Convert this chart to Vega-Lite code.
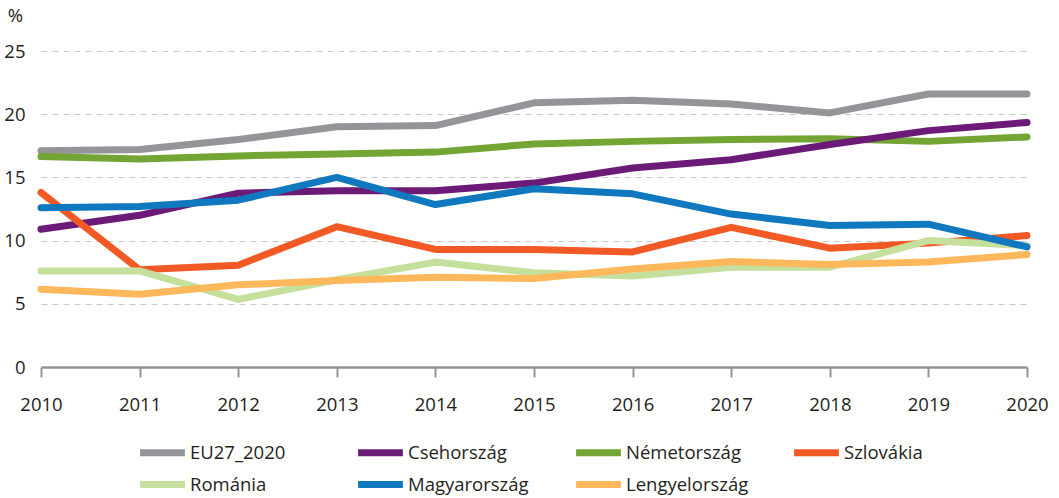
{
  "$schema": "https://vega.github.io/schema/vega-lite/v6.json",
  "autosize": {"type": "none"},
  "padding": {"left": 41, "top": 51, "right": 32, "bottom": 131},
  "width": 986,
  "height": 316,
  "background": "white",
  "config": {
    "view": {"stroke": null},
    "font": "Open Sans",
    "axis": {"labelFont": "Open Sans", "labelColor": "#231f20", "labelFontSize": 18.5},
    "legend": {"labelFont": "Open Sans", "labelColor": "#231f20", "labelFontSize": 18.5}
  },
  "data": {
    "values": [
      {"year": 2010, "country": "EU27_2020", "value": 17.1},
      {"year": 2011, "country": "EU27_2020", "value": 17.2},
      {"year": 2012, "country": "EU27_2020", "value": 18.0},
      {"year": 2013, "country": "EU27_2020", "value": 19.0},
      {"year": 2014, "country": "EU27_2020", "value": 19.1},
      {"year": 2015, "country": "EU27_2020", "value": 20.9},
      {"year": 2016, "country": "EU27_2020", "value": 21.1},
      {"year": 2017, "country": "EU27_2020", "value": 20.8},
      {"year": 2018, "country": "EU27_2020", "value": 20.1},
      {"year": 2019, "country": "EU27_2020", "value": 21.6},
      {"year": 2020, "country": "EU27_2020", "value": 21.6},
      {"year": 2010, "country": "Németország", "value": 16.65},
      {"year": 2011, "country": "Németország", "value": 16.45},
      {"year": 2012, "country": "Németország", "value": 16.7},
      {"year": 2013, "country": "Németország", "value": 16.85},
      {"year": 2014, "country": "Németország", "value": 17.0},
      {"year": 2015, "country": "Németország", "value": 17.65},
      {"year": 2016, "country": "Németország", "value": 17.85},
      {"year": 2017, "country": "Németország", "value": 18.0},
      {"year": 2018, "country": "Németország", "value": 18.05},
      {"year": 2019, "country": "Németország", "value": 17.85},
      {"year": 2020, "country": "Németország", "value": 18.2},
      {"year": 2010, "country": "Csehország", "value": 10.9},
      {"year": 2011, "country": "Csehország", "value": 12.0},
      {"year": 2012, "country": "Csehország", "value": 13.75},
      {"year": 2013, "country": "Csehország", "value": 13.95},
      {"year": 2014, "country": "Csehország", "value": 13.95},
      {"year": 2015, "country": "Csehország", "value": 14.55},
      {"year": 2016, "country": "Csehország", "value": 15.75},
      {"year": 2017, "country": "Csehország", "value": 16.4},
      {"year": 2018, "country": "Csehország", "value": 17.6},
      {"year": 2019, "country": "Csehország", "value": 18.7},
      {"year": 2020, "country": "Csehország", "value": 19.35},
      {"year": 2010, "country": "Szlovákia", "value": 13.8},
      {"year": 2011, "country": "Szlovákia", "value": 7.7},
      {"year": 2012, "country": "Szlovákia", "value": 8.05},
      {"year": 2013, "country": "Szlovákia", "value": 11.1},
      {"year": 2014, "country": "Szlovákia", "value": 9.3},
      {"year": 2015, "country": "Szlovákia", "value": 9.3},
      {"year": 2016, "country": "Szlovákia", "value": 9.1},
      {"year": 2017, "country": "Szlovákia", "value": 11.05},
      {"year": 2018, "country": "Szlovákia", "value": 9.4},
      {"year": 2019, "country": "Szlovákia", "value": 9.8},
      {"year": 2020, "country": "Szlovákia", "value": 10.4},
      {"year": 2010, "country": "Románia", "value": 7.6},
      {"year": 2011, "country": "Románia", "value": 7.6},
      {"year": 2012, "country": "Románia", "value": 5.35},
      {"year": 2013, "country": "Románia", "value": 6.9},
      {"year": 2014, "country": "Románia", "value": 8.3},
      {"year": 2015, "country": "Románia", "value": 7.45},
      {"year": 2016, "country": "Románia", "value": 7.2},
      {"year": 2017, "country": "Románia", "value": 7.9},
      {"year": 2018, "country": "Románia", "value": 7.9},
      {"year": 2019, "country": "Románia", "value": 10.0},
      {"year": 2020, "country": "Románia", "value": 9.6},
      {"year": 2010, "country": "Lengyelország", "value": 6.15},
      {"year": 2011, "country": "Lengyelország", "value": 5.75},
      {"year": 2012, "country": "Lengyelország", "value": 6.5},
      {"year": 2013, "country": "Lengyelország", "value": 6.85},
      {"year": 2014, "country": "Lengyelország", "value": 7.1},
      {"year": 2015, "country": "Lengyelország", "value": 7.0},
      {"year": 2016, "country": "Lengyelország", "value": 7.75},
      {"year": 2017, "country": "Lengyelország", "value": 8.35},
      {"year": 2018, "country": "Lengyelország", "value": 8.1},
      {"year": 2019, "country": "Lengyelország", "value": 8.3},
      {"year": 2020, "country": "Lengyelország", "value": 8.9},
      {"year": 2010, "country": "Magyarország", "value": 12.6},
      {"year": 2011, "country": "Magyarország", "value": 12.7},
      {"year": 2012, "country": "Magyarország", "value": 13.2},
      {"year": 2013, "country": "Magyarország", "value": 15.0},
      {"year": 2014, "country": "Magyarország", "value": 12.85},
      {"year": 2015, "country": "Magyarország", "value": 14.1},
      {"year": 2016, "country": "Magyarország", "value": 13.7},
      {"year": 2017, "country": "Magyarország", "value": 12.1},
      {"year": 2018, "country": "Magyarország", "value": 11.2},
      {"year": 2019, "country": "Magyarország", "value": 11.3},
      {"year": 2020, "country": "Magyarország", "value": 9.5}
    ]
  },
  "mark": {"type": "line", "strokeWidth": 7, "strokeCap": "round", "strokeJoin": "round"},
  "encoding": {
    "x": {
      "field": "year",
      "type": "quantitative",
      "scale": {"domain": [2010, 2020], "nice": false, "zero": false},
      "axis": {
        "title": null,
        "values": [2010, 2011, 2012, 2013, 2014, 2015, 2016, 2017, 2018, 2019, 2020],
        "format": "d",
        "grid": false,
        "domainColor": "#929497",
        "domainWidth": 2.5,
        "tickColor": "#929497",
        "tickWidth": 2,
        "tickSize": 10,
        "labelPadding": 18,
        "labelFlush": false
      }
    },
    "y": {
      "field": "value",
      "type": "quantitative",
      "scale": {"domain": [0, 25], "nice": false},
      "axis": {
        "values": [0, 5, 10, 15, 20, 25],
        "domain": false,
        "ticks": false,
        "labelPadding": 16,
        "gridColor": "#c8c8c8",
        "gridWidth": 1.2,
        "gridDash": [6, 5],
        "title": "%",
        "titleAngle": 0,
        "titleX": -26,
        "titleY": -36,
        "titleAlign": "center",
        "titleBaseline": "middle",
        "titleFont": "Open Sans",
        "titleFontWeight": "normal",
        "titleFontSize": 18.5,
        "titleColor": "#231f20"
      }
    },
    "color": {
      "field": "country",
      "type": "nominal",
      "scale": {
        "domain": ["EU27_2020", "Csehország", "Németország", "Szlovákia", "Románia", "Magyarország", "Lengyelország"],
        "range": ["#939598", "#6b1b77", "#73a534", "#f15a24", "#c5df9c", "#0f78bf", "#fdb85c"]
      },
      "legend": {
        "title": null,
        "orient": "none",
        "legendX": 104,
        "legendY": 384,
        "direction": "horizontal",
        "columns": 4,
        "gridAlign": "all",
        "columnPadding": 31,
        "rowPadding": 0,
        "padding": 0,
        "symbolType": "M-1.6,0H1.6",
        "symbolSize": 784,
        "symbolStrokeWidth": 7,
        "labelOffset": 10
      }
    }
  }
}
